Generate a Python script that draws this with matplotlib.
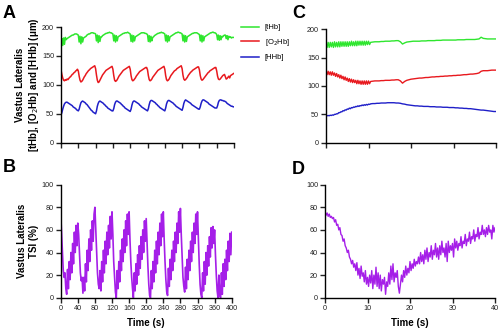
import matplotlib
matplotlib.use("Agg")
import matplotlib.pyplot as plt
import numpy as np

plt.rcParams['font.family'] = ['Liberation Sans', 'DejaVu Sans']

# ---- panel A: tHb / O2Hb / HHb over 400 s (sampled every 2 s) ----
t_a = np.arange(0, 401, 2)
thb_a = [172, 180, 168, 181, 170, 182, 178, 180, 181, 182, 183, 184, 185, 186, 186, 187, 188, 188, 188, 187,
         186, 174, 184, 171, 183, 174, 181, 182, 183, 184, 186, 187, 188, 188, 189, 190, 190, 190, 189, 189,
         188, 176, 186, 173, 185, 175, 183, 183, 185, 186, 187, 188, 189, 189, 190, 190, 191, 190, 190, 189,
         188, 176, 186, 174, 185, 176, 183, 184, 185, 186, 187, 188, 189, 189, 190, 190, 190, 191, 190, 189,
         188, 175, 186, 174, 185, 176, 183, 184, 185, 186, 187, 188, 189, 190, 190, 190, 190, 189, 189, 188,
         187, 175, 185, 174, 184, 176, 182, 183, 185, 186, 187, 188, 189, 189, 190, 190, 191, 190, 190, 189,
         188, 176, 186, 174, 185, 176, 183, 184, 185, 186, 187, 188, 189, 190, 190, 191, 191, 190, 190, 189,
         188, 176, 186, 174, 185, 175, 183, 184, 185, 186, 187, 188, 189, 189, 190, 190, 190, 190, 189, 188,
         187, 176, 186, 174, 185, 176, 183, 184, 185, 186, 187, 188, 189, 190, 190, 191, 191, 190, 190, 189,
         187, 178, 186, 177, 185, 178, 184, 183, 185, 186, 186, 180, 185, 178, 184, 182, 183, 181, 182, 182, 182]
o2hb_a = [126, 118, 112, 108, 107, 109, 108, 110, 109, 111, 113, 114, 116, 118, 119, 121, 122, 124, 125, 127,
          124, 115, 108, 105, 106, 108, 111, 114, 116, 119, 121, 123, 125, 126, 128, 129, 130, 131, 132, 133,
          128, 117, 108, 104, 105, 108, 111, 114, 117, 119, 121, 123, 125, 126, 127, 128, 129, 130, 131, 132,
          127, 116, 108, 106, 107, 109, 112, 115, 117, 119, 121, 123, 125, 126, 127, 128, 129, 130, 131, 132,
          127, 116, 109, 107, 108, 110, 112, 115, 117, 119, 121, 123, 124, 125, 126, 127, 128, 129, 130, 130,
          126, 116, 109, 107, 108, 110, 113, 115, 117, 119, 121, 123, 125, 126, 127, 128, 129, 130, 131, 132,
          127, 116, 109, 107, 108, 110, 113, 116, 118, 120, 122, 124, 125, 126, 128, 129, 130, 131, 132, 133,
          128, 117, 110, 108, 109, 111, 113, 116, 118, 120, 122, 123, 125, 126, 127, 128, 129, 130, 131, 131,
          126, 116, 110, 108, 109, 111, 113, 115, 117, 119, 121, 122, 124, 125, 126, 127, 128, 129, 130, 130,
          124, 115, 110, 109, 110, 112, 114, 116, 117, 118, 114, 110, 111, 113, 115, 112, 116, 117, 118, 119, 120]
hhb_a = [48, 52, 58, 63, 67, 69, 70, 70, 69, 68, 67, 66, 65, 64, 62, 61, 60, 59, 57, 56,
         55, 58, 64, 69, 71, 72, 71, 70, 69, 67, 66, 64, 62, 60, 58, 56, 55, 53, 52, 51,
         50, 55, 63, 68, 71, 72, 71, 70, 69, 68, 66, 65, 63, 62, 60, 59, 58, 57, 56, 55,
         55, 59, 66, 70, 72, 72, 71, 70, 69, 68, 66, 65, 63, 62, 60, 59, 58, 57, 56, 55,
         54, 58, 65, 70, 72, 72, 71, 70, 69, 68, 67, 65, 64, 62, 61, 60, 59, 58, 57, 56,
         55, 59, 66, 71, 73, 73, 72, 71, 70, 69, 67, 66, 64, 63, 61, 60, 59, 58, 57, 56,
         55, 60, 67, 71, 73, 73, 72, 71, 70, 69, 68, 66, 65, 63, 62, 61, 60, 59, 58, 57,
         56, 61, 68, 72, 74, 73, 72, 71, 70, 69, 68, 66, 65, 64, 63, 62, 61, 60, 59, 58,
         58, 62, 68, 72, 74, 74, 73, 72, 71, 70, 69, 67, 66, 65, 64, 63, 62, 61, 60, 60,
         60, 64, 70, 73, 74, 74, 73, 73, 72, 72, 71, 70, 68, 67, 66, 65, 64, 63, 63, 62, 62]

# ---- panel B: TSI over 400 s (sampled every 2 s) ----
t_b = np.arange(0, 401, 2)
tsi_b = [75, 58, 40, 24, 18, 22, 8, 3, 25, 8, 32, 16, 40, 22, 48, 30, 58, 40, 64, 46,
         66, 56, 38, 22, 15, 18, 4, 18, 6, 30, 14, 42, 24, 52, 32, 60, 42, 68, 50, 74,
         80, 60, 40, 22, 12, 8, 24, 6, 32, 14, 42, 22, 50, 30, 58, 38, 64, 44, 72, 52,
         76, 56, 32, 18, 5, 0, 24, 8, 32, 14, 42, 24, 52, 32, 60, 40, 68, 46, 74, 56,
         76, 52, 32, 18, 8, 0, 22, 6, 30, 12, 38, 20, 46, 26, 54, 34, 60, 40, 68, 50,
         70, 48, 28, 12, 2, 0, 24, 8, 32, 14, 42, 22, 50, 30, 58, 38, 66, 46, 74, 54,
         76, 52, 32, 16, 5, 2, 26, 10, 34, 16, 42, 24, 50, 32, 58, 40, 66, 48, 76, 58,
         79, 56, 36, 18, 10, 5, 27, 8, 34, 16, 42, 24, 50, 32, 58, 40, 66, 48, 74, 56,
         76, 52, 30, 12, 3, 0, 22, 6, 32, 12, 40, 20, 46, 28, 54, 36, 62, 44, 63, 48,
         60, 38, 20, 6, 0, 20, 2, 0, 22, 3, 30, 10, 34, 16, 42, 24, 50, 32, 57, 38, 58]

# ---- panel C: first 40 s of the hemoglobin signals ----
t_c = np.concatenate([np.arange(0, 10.5, 0.25), np.arange(10.5, 40.5, 0.5)])
thb_c = [177, 168, 177, 168, 177, 169, 177, 168, 178, 169, 177, 169, 178, 169, 178, 170, 178, 170, 178, 170,
         178, 170, 178, 171, 179, 171, 178, 171, 179, 171, 179, 172, 179, 172, 179, 172, 179, 172, 179, 173,
         179, 173,
         177, 177.5, 178, 178, 178, 178.5, 178.5, 179, 179, 179, 179.5, 179.5, 180, 180, 178, 174, 176, 177.5,
         178, 178.5, 179, 179, 179, 179, 179.5, 179.5, 179.5, 180, 180, 180, 180, 180.5, 180.5, 180.5, 181, 181,
         181, 181, 181, 181, 181, 181.5, 181.5, 181.5, 181.5, 182, 182, 182, 182, 182, 182.5, 183, 186, 184,
         183.5, 183, 183, 183, 183, 183]
o2hb_c = [126, 120, 126, 120, 125, 119, 125, 119, 123, 117, 122, 116, 120, 114, 119, 113, 117, 111, 116, 110,
          114, 108, 113, 107, 112, 106, 111, 106, 110, 104, 110, 104, 109, 103, 109, 103, 109, 103, 109, 103,
          109, 104,
          108, 108.5, 109, 109, 109, 109.5, 109.5, 110, 110, 110, 110.5, 110.5, 111, 111, 109, 105, 108, 110,
          111, 112, 112.5, 113, 113.5, 114, 114, 114.5, 115, 115, 115.5, 116, 116, 116.5, 116.5, 117, 117, 117.5,
          117.5, 118, 118, 118.5, 118.5, 119, 119, 119.5, 120, 120, 120.5, 121, 121, 121.5, 122, 123, 126, 127,
          127, 127, 127.5, 128, 128, 128]
hhb_c = [48, 47.5, 48, 47.5, 48.5, 48, 49, 48.5, 50, 50, 51, 51, 53, 53, 54.5, 54.5, 56.5, 56, 58, 57.5,
         59.5, 59, 61, 60, 62, 61.5, 63, 62.5, 64, 63.5, 65, 64, 65.5, 65, 66.5, 65.5, 67, 66, 67.5, 66.5,
         68, 67.5,
         68.5, 69, 69, 69.5, 69.5, 70, 70, 70, 70.5, 70.5, 70.5, 70.5, 70, 70, 69.5, 68.5, 68, 67, 66.5, 66,
         65.5, 65, 65, 64.5, 64.5, 64, 64, 64, 63.5, 63.5, 63.5, 63, 63, 63, 62.5, 62.5, 62.5, 62, 62, 62,
         61.5, 61.5, 61, 61, 60.5, 60.5, 60, 60, 59.5, 59, 58.5, 58, 57.5, 57.5, 57, 56.5, 56, 55.5, 55, 55]

# ---- panel D: first 40 s of TSI (sampled every 0.25 s) ----
t_d = np.arange(0, 40.01, 0.25)
tsi_d = [76, 73, 75, 72, 74, 71, 72, 70, 71, 67, 69, 64, 65, 60, 62, 56, 55, 50, 52, 46,
         44, 40, 42, 36, 34, 30, 33, 27, 30, 24, 31, 20, 26, 17, 28, 19, 22, 14, 24, 12,
         18, 10, 20, 13, 24, 8, 20, 12, 27, 10, 22, 8, 20, 6, 16, 12, 18, 3, 14, 10,
         22, 12, 28, 16, 30, 14, 22, 18, 24, 10, 4, 12, 20, 14, 24, 18, 28, 20, 26, 22,
         32, 24, 30, 26, 34, 28, 32, 30, 36, 30, 40, 32, 38, 30, 42, 34, 44, 32, 40, 36,
         46, 34, 42, 38, 48, 36, 44, 34, 46, 38, 50, 40, 44, 36, 48, 32, 50, 40, 46, 42,
         48, 36, 52, 44, 50, 42, 48, 46, 54, 44, 50, 48, 56, 46, 52, 50, 58, 48, 54, 52,
         60, 50, 56, 54, 62, 52, 58, 56, 64, 56, 60, 54, 62, 56, 64, 58, 60, 52, 64, 58, 62]

green = '#2ee62e'
red = '#e8191e'
blue = '#1f1fc8'
purple = '#a51fe8'

fig = plt.figure(figsize=(4.99, 3.29), dpi=100)
W, H = 499.0, 329.0


def make_ax(x0, x1, ytop, ybot):
    return fig.add_axes([x0 / W, 1 - ybot / H, (x1 - x0) / W, (ybot - ytop) / H])


def style(ax, xmax, xticks, ymax, yticks, xlabels):
    ax.set_xlim(0, xmax)
    ax.set_ylim(0, ymax)
    ax.set_xticks(xticks)
    ax.set_yticks(yticks)
    if not xlabels:
        ax.set_xticklabels([])
    for s in ['top', 'right']:
        ax.spines[s].set_visible(False)
    for s in ['left', 'bottom']:
        ax.spines[s].set_linewidth(1.0)
    ax.tick_params(direction='out', length=3.5, width=1.0, pad=1.5, labelsize=5.2, colors='#222222')


ax_a = make_ax(61, 234, 27, 142.7)
ax_a.plot(t_a, thb_a, color=green, lw=1.1, label='[tHb]')
ax_a.plot(t_a, o2hb_a, color=red, lw=1.1, label='[O$_2$Hb]')
ax_a.plot(t_a, hhb_a, color=blue, lw=1.1, label='[HHb]')
style(ax_a, 400, np.arange(0, 401, 40), 200, [0, 50, 100, 150, 200], False)

ax_c = make_ax(326, 496, 29.3, 142.7)
ax_c.plot(t_c, thb_c, color=green, lw=1.0)
ax_c.plot(t_c, o2hb_c, color=red, lw=1.0)
ax_c.plot(t_c, hhb_c, color=blue, lw=1.0)
style(ax_c, 40, [0, 10, 20, 30, 40], 200, [0, 50, 100, 150, 200], False)

ax_b = make_ax(60.7, 231.7, 184.7, 297.7)
ax_b.plot(t_b, tsi_b, color=purple, lw=1.2)
style(ax_b, 400, np.arange(0, 401, 40), 100, [0, 20, 40, 60, 80, 100], True)
ax_b.set_xlabel('Time (s)', fontsize=7, fontweight='bold', labelpad=4.5)

ax_d = make_ax(325, 495, 184.7, 297.7)
ax_d.plot(t_d, tsi_d, color=purple, lw=1.0)
style(ax_d, 40, [0, 10, 20, 30, 40], 100, [0, 20, 40, 60, 80, 100], True)
ax_d.set_xlabel('Time (s)', fontsize=7, fontweight='bold', labelpad=4.5)

# y labels
fig.text(28 / W, 1 - 85 / H, 'Vastus Lateralis\n[tHb], [O$_2$Hb] and [HHb] (μm)',
         rotation=90, ha='center', va='center', fontsize=7, fontweight='bold',
         multialignment='center', linespacing=1.25)
fig.text(28 / W, 1 - 241 / H, 'Vastus Lateralis\nTSI (%)',
         rotation=90, ha='center', va='center', fontsize=7, fontweight='bold',
         multialignment='center', linespacing=1.25)

# panel letters
for letter, x, y in [('A', 3, 13), ('B', 3, 168), ('C', 292, 13.5), ('D', 292, 169)]:
    fig.text(x / W, 1 - y / H, letter, fontsize=13, fontweight='bold', ha='left', va='center')

fig.legend(loc='upper left', bbox_to_anchor=(238 / W, 1 - 21 / H), frameon=False,
           fontsize=5.5, handlelength=2.4, handletextpad=0.7, labelspacing=0.75, borderaxespad=0)

fig.savefig('out.png', dpi=100)
